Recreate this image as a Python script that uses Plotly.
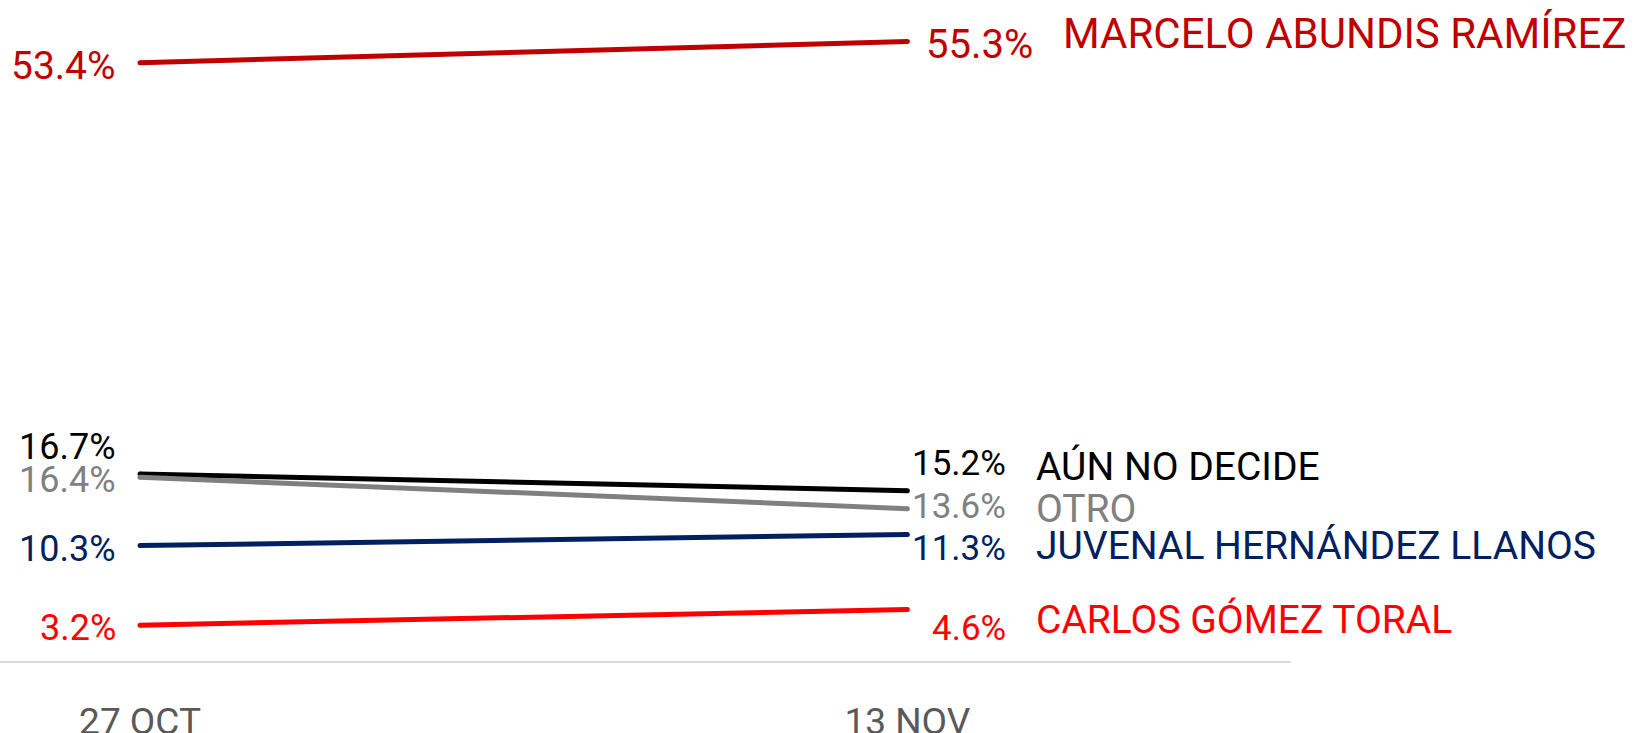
import plotly.graph_objects as go

# data
dates = ["27 OCT", "13 NOV"]
candidates = ["MARCELO ABUNDIS RAMÍREZ", "AÚN NO DECIDE", "OTRO",
              "JUVENAL HERNÁNDEZ LLANOS", "CARLOS GÓMEZ TORAL"]
oct_values = [53.4, 16.7, 16.4, 10.3, 3.2]
nov_values = [55.3, 15.2, 13.6, 11.3, 4.6]
colors = ["#C00000", "#000000", "#808080", "#002060", "#FF0000"]

# label nudges (px) so the texts don't collide
left_dy = [-3, 27, -3, -3, -3]
right_dy = [-3, 27, 2, -14, -19]
name_dy = [8, 24, 0, -12, -11]
right_dx = [128, 101, 101, 101, 101]
name_dx = [154, 127, 127, 127, 127]
# the leader gets slightly bigger text
left_size = [39, 36, 36, 36, 36]
right_size = [40, 35, 35, 35, 35]
name_size = [42, 39, 39, 39, 39]

FONT = "Roboto"

fig = go.Figure()
for i, name in enumerate(candidates):
    fig.add_trace(go.Scatter(
        x=dates,
        y=[oct_values[i], nov_values[i]],
        name=name,
        mode="lines+markers",
        line=dict(color=colors[i], width=5),
        marker=dict(size=5, color=colors[i]),
        showlegend=False,
        hoverinfo="skip",
    ))

annotations = []
for i, name in enumerate(candidates):
    annotations.append(dict(
        x=dates[0], y=oct_values[i], xref="x", yref="y",
        text=f"{oct_values[i]:.1f}%", showarrow=False,
        xanchor="right", yanchor="middle", xshift=-22, yshift=left_dy[i],
        font=dict(family=FONT, size=left_size[i], color=colors[i]),
    ))
    annotations.append(dict(
        x=dates[1], y=nov_values[i], xref="x", yref="y",
        text=f"{nov_values[i]:.1f}%", showarrow=False,
        xanchor="right", yanchor="middle", xshift=right_dx[i], yshift=right_dy[i],
        font=dict(family=FONT, size=right_size[i], color=colors[i]),
    ))
    annotations.append(dict(
        x=dates[1], y=nov_values[i], xref="x", yref="y",
        text=name, showarrow=False,
        xanchor="left", yanchor="middle", xshift=name_dx[i], yshift=name_dy[i],
        font=dict(family=FONT, size=name_size[i], color=colors[i]),
    ))

fig.update_layout(
    width=1642, height=733,
    margin=dict(l=0, r=351, t=0, b=72, autoexpand=False),
    plot_bgcolor="white", paper_bgcolor="white",
    annotations=annotations,
)
fig.update_xaxes(
    type="category", range=[-0.1825, 1.5], automargin=False,
    showgrid=False, zeroline=False,
    showline=True, linecolor="#d9d9d9", linewidth=2,
    ticks="", ticklabelstandoff=27,
    tickfont=dict(family=FONT, size=37, color="#595959"),
)
fig.update_yaxes(range=[0, 59], visible=False, automargin=False)

# drop the default page margin so the chart sits at the window corner
fig.write_html("out.html", config={"displayModeBar": False},
               post_script="document.body.style.margin='0';")
